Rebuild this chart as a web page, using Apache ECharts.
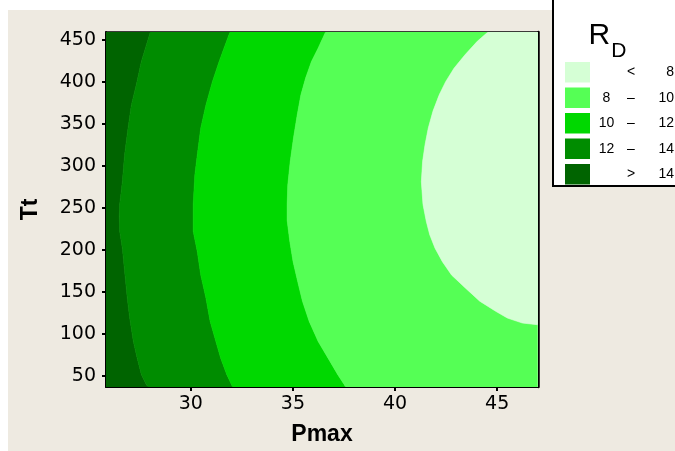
<!DOCTYPE html>
<html>
<head>
<meta charset="utf-8">
<script src="https://cdn.jsdelivr.net/npm/echarts@6/dist/echarts.min.js"></script>
<style>
  html, body { margin: 0; padding: 0; background: #fff; }
  #chart { width: 675px; height: 451px; }
</style>
</head>
<body>
<div id="chart"></div>
<script>
// Axis ranges and tick labels
const pmaxRange = [25.85, 47.0];
const ttRange = [37, 459];
const pmaxTicks = [30, 35, 40, 45];
const ttTicks = [50, 100, 150, 200, 250, 300, 350, 400, 450];

// Contour boundaries of R_D as [Pmax, Tt] points, from the top of the Tt range down
const rd14 = [[28.02, 459], [27.58, 424], [27.35, 398], [27.09, 372], [26.93, 345], [26.76, 313],
  [26.65, 281], [26.52, 254], [26.50, 240], [26.52, 222], [26.65, 202], [26.78, 170], [26.89, 143],
  [27.01, 119], [27.19, 91], [27.38, 71], [27.58, 52], [27.82, 40], [27.92, 37]];
const rd12 = [[31.92, 459], [31.63, 440], [31.39, 424], [31.06, 400], [30.74, 372], [30.49, 345],
  [30.32, 313], [30.20, 289], [30.12, 254], [30.12, 222], [30.32, 198], [30.49, 170], [30.74, 143],
  [30.95, 115], [31.23, 91], [31.47, 71], [31.76, 52], [31.99, 40], [32.05, 37]];
const rd10 = [[36.60, 459], [36.24, 440], [35.91, 424], [35.62, 404], [35.39, 384], [35.21, 360],
  [35.03, 333], [34.87, 305], [34.75, 277], [34.72, 254], [34.72, 235], [34.85, 210], [35.01, 186],
  [35.23, 163], [35.47, 139], [35.80, 115], [36.24, 91], [36.73, 71], [37.19, 52], [37.51, 40], [37.58, 37]];
const rd8 = [[44.55, 459], [44.03, 448], [43.43, 432], [42.89, 416], [42.48, 400], [42.16, 384],
  [41.86, 365], [41.63, 345], [41.47, 325], [41.35, 305], [41.29, 281], [41.37, 254], [41.53, 234],
  [41.70, 218], [41.96, 202], [42.32, 186], [42.77, 170], [43.43, 155], [44.15, 139], [44.93, 127],
  [45.50, 119], [46.24, 113], [46.98, 111], [48.0, 108], [49.5, 100], [52.0, 37]];

// Bands, left (highest R_D) to right
const bandNames = ['> 14', '12 – 14', '10 – 12', '8 – 10', '< 8'];
const bandColors = ['#006400', '#008C00', '#00D800', '#55FF55', '#D5FFD5'];

// Legend rows, top to bottom: [low, sign, high]
const legendOrder = ['< 8', '8 – 10', '10 – 12', '12 – 14', '> 14'];
const legendParts = {
  '< 8': ['', '<', '8'],
  '8 – 10': ['8', '–', '10'],
  '10 – 12': ['10', '–', '12'],
  '12 – 14': ['12', '–', '14'],
  '> 14': ['', '>', '14']
};

const leftEdge = [[pmaxRange[0], ttRange[1]], [pmaxRange[0], ttRange[0]]];
const rightEdge = [[pmaxRange[1], ttRange[1]], [pmaxRange[1], ttRange[0]]];
const bandBounds = [[leftEdge, rd14], [rd14, rd12], [rd12, rd10], [rd10, rd8], [rd8, rightEdge]];

const tickFont = { fontFamily: 'DejaVu Sans', fontSize: 19, color: '#000' };
const nameFont = { fontFamily: 'Liberation Sans', fontWeight: 'bold', fontSize: 23, color: '#000' };
const legendFont = { fontFamily: 'Liberation Sans', fontSize: 14, color: '#000' };

const chart = echarts.init(document.getElementById('chart'), null, { renderer: 'canvas' });

chart.setOption({
  backgroundColor: '#ffffff',
  animation: false,
  grid: { left: 106, top: 32, right: 137, bottom: 64, containLabel: false },
  xAxis: [
    {
      type: 'value', position: 'bottom', min: pmaxRange[0], max: pmaxRange[1],
      name: 'Pmax', nameLocation: 'middle', nameGap: 36, nameTextStyle: nameFont,
      axisLine: { show: true, onZero: false, lineStyle: { color: '#000', width: 2 } },
      axisTick: { show: true, length: 4, lineStyle: { color: '#000', width: 2 }, customValues: pmaxTicks },
      axisLabel: Object.assign({ margin: 8, customValues: pmaxTicks }, tickFont),
      splitLine: { show: false }
    },
    {
      type: 'value', position: 'top', min: pmaxRange[0], max: pmaxRange[1],
      axisLine: { show: true, onZero: false, lineStyle: { color: '#000', width: 1.5 } },
      axisTick: { show: false }, axisLabel: { show: false }, splitLine: { show: false }
    }
  ],
  yAxis: [
    {
      type: 'value', position: 'left', min: ttRange[0], max: ttRange[1],
      name: 'Tt', nameLocation: 'middle', nameGap: 64, nameTextStyle: nameFont,
      axisLine: { show: true, onZero: false, lineStyle: { color: '#000', width: 2 } },
      axisTick: { show: true, length: 4, lineStyle: { color: '#000', width: 2 }, customValues: ttTicks },
      axisLabel: Object.assign({ margin: 10, customValues: ttTicks }, tickFont),
      splitLine: { show: false }
    },
    {
      type: 'value', position: 'right', min: ttRange[0], max: ttRange[1],
      axisLine: { show: true, onZero: false, lineStyle: { color: '#000', width: 2.5 } },
      axisTick: { show: false }, axisLabel: { show: false }, splitLine: { show: false }
    }
  ],
  legend: {
    orient: 'vertical', left: 560, top: 57,
    itemWidth: 25, itemHeight: 20.5, itemGap: 5, icon: 'rect',
    selectedMode: false,
    data: legendOrder,
    formatter: function (name) {
      const p = legendParts[name];
      return '{a|' + p[0] + '}{b|' + p[1] + '}{c|' + p[2] + '}';
    },
    textStyle: Object.assign({
      rich: {
        a: Object.assign({ width: 23, align: 'right' }, legendFont),
        b: Object.assign({ width: 26, align: 'center' }, legendFont),
        c: Object.assign({ width: 30, align: 'right' }, legendFont)
      }
    }, legendFont)
  },
  graphic: [
    { type: 'rect', z: -10, silent: true, shape: { x: 8, y: 10, width: 667, height: 441 }, style: { fill: '#EEEAE1' } },
    { type: 'rect', z: 1, silent: true, shape: { x: 553, y: -5, width: 130, height: 191 }, style: { fill: '#ffffff', stroke: '#000', lineWidth: 2 } },
    { type: 'text', z: 2, x: 588.6, y: 21, style: { text: 'R', font: '30px "Liberation Sans"', fill: '#000' } },
    { type: 'text', z: 2, x: 611.3, y: 40.6, style: { text: 'D', font: '21px "Liberation Sans"', fill: '#000' } }
  ],
  series: bandNames.map(function (name, i) {
    return {
      type: 'custom',
      name: name,
      coordinateSystem: 'cartesian2d',
      clip: true,
      silent: true,
      itemStyle: { color: bandColors[i] },
      data: [[pmaxRange[0], ttRange[0]]],
      renderItem: function (params, api) {
        const left = bandBounds[i][0];
        const right = bandBounds[i][1];
        const pts = left.concat(right.slice().reverse()).map(function (p) { return api.coord(p); });
        return {
          type: 'polygon',
          shape: { points: pts },
          style: { fill: bandColors[i], stroke: bandColors[i], lineWidth: 0.6 }
        };
      }
    };
  })
});
</script>
</body>
</html>
